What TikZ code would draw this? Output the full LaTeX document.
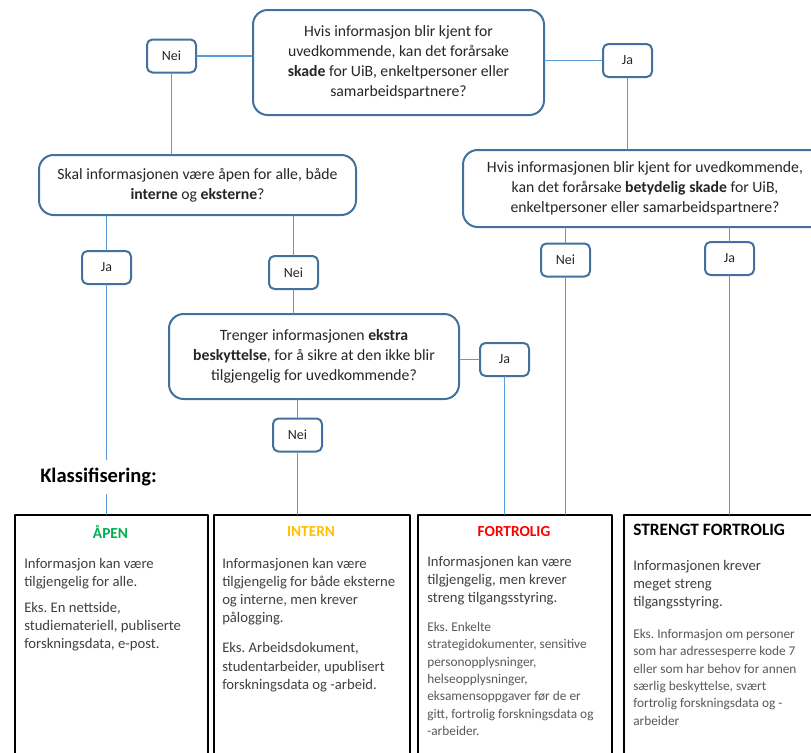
\documentclass[tikz,border=0pt]{standalone}
\usepackage{fontspec}
\setmainfont{Carlito}
\frenchspacing
\usetikzlibrary{positioning}
\definecolor{boxblue}{RGB}{65,113,156}
\definecolor{lineblue}{RGB}{91,155,213}
\definecolor{apengreen}{RGB}{0,176,80}
\definecolor{internyellow}{RGB}{255,192,0}
\definecolor{textgray}{RGB}{64,64,64}
\definecolor{eksgray}{RGB}{89,89,89}
\begin{document}
\begin{tikzpicture}[x=0.75pt,y=-0.75pt,line join=round,line cap=round,
	question/.style 2 args={draw=boxblue,line width=1.5pt,rounded corners=11pt,fill=white,align=center,inner sep=0pt,
		minimum width=#1*0.75pt,minimum height=#2*0.75pt,text=black!85,font=\fontsize{11.8}{15}\selectfont},
	answer/.style={draw=boxblue,line width=1.5pt,rounded corners=4pt,fill=white,inner sep=0pt,
		minimum width=36.75pt,minimum height=24.75pt,text=black!85,font=\fontsize{10.5}{12}\selectfont},
	klasse/.style={draw=black,line width=1.5pt,anchor=north west,inner sep=0pt,minimum width=#1*0.75pt,minimum height=190pt},
	tittel/.style={anchor=center,inner sep=0pt,font=\fontsize{11.5}{13}\selectfont\bfseries},
	tekst/.style={anchor=north west,align=left,inner sep=0pt,text=textgray,font=\fontsize{11}{13.6}\selectfont},
	eks/.style={anchor=north west,align=left,inner sep=0pt,text=eksgray,font=\fontsize{10}{13}\selectfont},
	link/.style={draw=lineblue,line width=1.3pt}]
	\useasboundingbox (0,0) rectangle (811,753);
	\clip (0,0) rectangle (811,753);
	\fill[white] (0,0) rectangle (811,753);
	\node[question={291}{105}] (q1) at (398.5,62.5) {Hvis informasjon blir kjent for\\uvedkommende, kan det forårsake\\\textbf{skade} for UiB, enkeltpersoner eller\\samarbeidspartnere?};
	\node[question={317}{60}] (q2) at (197.5,185) {Skal informasjonen være åpen for alle, både\\\textbf{interne} og \textbf{eksterne}?};
	\node[question={364}{77}] (q3) at (645,188.5) {Hvis informasjonen blir kjent for uvedkommende,\\kan det forårsake \textbf{betydelig skade} for UiB,\\enkeltpersoner eller samarbeidspartnere?};
	\node[question={290}{85}] (q4) at (314,356.5) {Trenger informasjonen \textbf{ekstra}\\\textbf{beskyttelse}, for å sikre at den ikke blir\\tilgjengelig for uvedkommende?};
	\foreach \n/\t/\x/\y in {n1/Nei/171.5/56,j1/Ja/627.5/60.5,j2/Ja/106.5/267.5,n2/Nei/293.5/272.5,
		n3/Nei/565.5/260,j3/Ja/729.5/258.5,j4/Ja/504.5/359.5,n4/Nei/297.5/435}
		\node[answer] (\n) at (\x,\y) {\t};
	\node[klasse=193] (apen) at (14,514) {};
	\node[klasse=196] (intern) at (213,514) {};
	\node[klasse=194] (fortrolig) at (417,514) {};
	\node[klasse=192] (strengt) at (623,514) {};
	\draw[link] (n1.east) -- (n1.east -| q1.west) (n1.south) -- (n1.south |- q2.north);
	\draw[link] (j1.west -| q1.east) -- (j1.west) (j1.south) -- (j1.south |- q3.north);
	\draw[link] (j2.north |- q2.south) -- (j2.north) (j2.south) -- (j2.south |- apen.north);
	\draw[link] (n2.north |- q2.south) -- (n2.north) (n2.south) -- (n2.south |- q4.north);
	\draw[link] (q4.east |- j4.west) -- (j4.west) (j4.south) -- (j4.south |- fortrolig.north);
	\draw[link] (n4.north |- q4.south) -- (n4.north) (n4.south) -- (n4.south |- intern.north);
	\draw[link] (n3.north |- q3.south) -- (n3.north) (n3.south) -- (n3.south |- fortrolig.north);
	\draw[link] (j3.north |- q3.south) -- (j3.north) (j3.south) -- (j3.south |- strengt.north);
	\node[anchor=west,fill=white,inner xsep=0pt,inner ysep=6pt,font=\fontsize{15.4}{17}\selectfont\bfseries] (klass) at (40,477) {Klassifisering:};
	\node[tittel,text=apengreen] (apentittel) at (110.5,532) {ÅPEN};
	\node[tittel,text=internyellow] (interntittel) at (311,532) {INTERN};
	\node[tittel,text=red] (fortroligtittel) at (514,532) {FORTROLIG};
	\node[tittel,anchor=west,font=\fontsize{13}{15}\selectfont\bfseries] (strengttittel) at (633,530) {STRENGT FORTROLIG};
	\node[tekst] (apentekst) at (24,558) {Informasjon kan være\\tilgjengelig for alle.\\[6pt]Eks. En nettside,\\studiemateriell, publiserte\\forskningsdata, e-post.};
	\node[tekst] (interntekst) at (222,558) {Informasjonen kan være\\tilgjengelig for både eksterne\\og interne, men krever\\pålogging.\\[9pt]Eks. Arbeidsdokument,\\studentarbeider, upublisert\\forskningsdata og -arbeid.};
	\node[tekst] (fortroligtekst) at (427,556) {Informasjonen kan være\\tilgjengelig, men krever\\streng tilgangsstyring.};
	\node[eks] (fortroligeks) at (427,622) {Eks. Enkelte\\strategidokumenter, sensitive\\personopplysninger,\\helseopplysninger,\\eksamensoppgaver før de er\\gitt, fortrolig forskningsdata og\\-arbeider.};
	\node[tekst] (strengttekst) at (633,560) {Informasjonen krever\\meget streng\\tilgangsstyring.};
	\node[eks] (strengteks) at (633,629) {Eks. Informasjon om personer\\som har adressesperre kode 7\\eller som har behov for annen\\særlig beskyttelse, svært\\fortrolig forskningsdata og -\\arbeider};
\end{tikzpicture}
\end{document}
